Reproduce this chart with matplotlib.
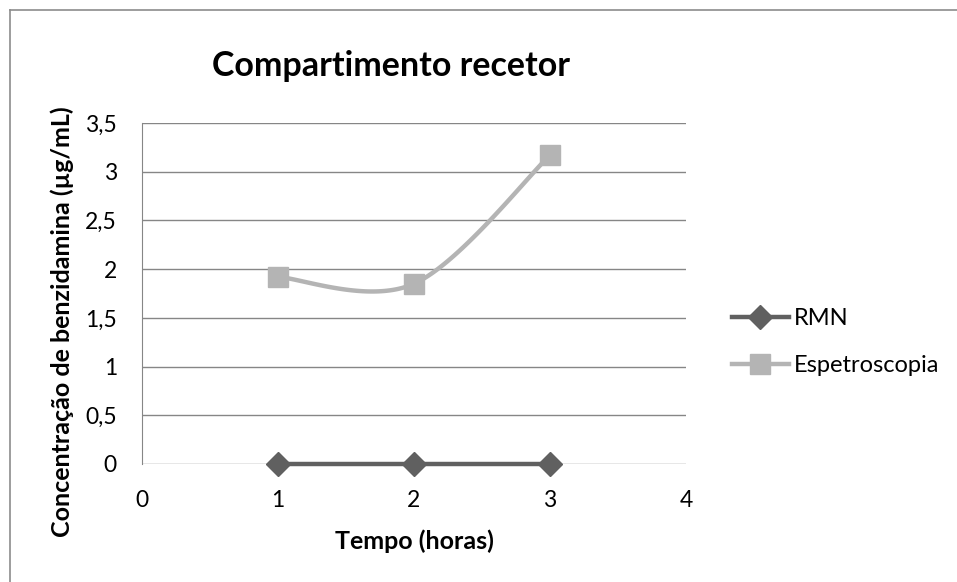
import matplotlib.pyplot as plt
from matplotlib.lines import Line2D
import numpy as np

plt.rcParams['font.family'] = ['Lato', 'DejaVu Sans']

horas = [1, 2, 3]
rmn = [0, 0, 0]
espetroscopia = [1.92, 1.85, 3.17]

x_ticks = [0, 1, 2, 3, 4]
y_ticks = [0, 0.5, 1, 1.5, 2, 2.5, 3, 3.5]


def excel_smooth(x, y, n=60):
    # bezier curve like the "smoothed line" option in a spreadsheet
    x = np.asarray(x, float)
    y = np.asarray(y, float)
    px = np.concatenate([[x[0]], x, [x[-1]]])
    py = np.concatenate([[y[0]], y, [y[-1]]])
    xs, ys = [], []
    t = np.linspace(0, 1, n)
    for i in range(1, len(px) - 2):
        c1x = px[i] + (px[i + 1] - px[i - 1]) / 6
        c1y = py[i] + (py[i + 1] - py[i - 1]) / 6
        c2x = px[i + 1] - (px[i + 2] - px[i]) / 6
        c2y = py[i + 1] - (py[i + 2] - py[i]) / 6
        b = [(1 - t) ** 3, 3 * (1 - t) ** 2 * t, 3 * (1 - t) * t ** 2, t ** 3]
        xs.append(b[0] * px[i] + b[1] * c1x + b[2] * c2x + b[3] * px[i + 1])
        ys.append(b[0] * py[i] + b[1] * c1y + b[2] * c2y + b[3] * py[i + 1])
    return np.concatenate(xs), np.concatenate(ys)


W, H = 957, 582
fig = plt.figure(figsize=(W / 100, H / 100), dpi=100)
ax = fig.add_axes([142 / W, 118 / H, 544 / W, 341 / H])

# chart border (only left and top visible)
fig.add_artist(Line2D([10 / W, 10 / W], [0, 1 - 10 / H], color='#8c8c8c', lw=1.2))
fig.add_artist(Line2D([10 / W, 1], [1 - 10 / H, 1 - 10 / H], color='#8c8c8c', lw=1.2))

dark = '#606060'
light = '#b4b4b4'

sx, sy = excel_smooth(horas, espetroscopia)
ax.plot(sx, sy, color=light, lw=3.2, solid_capstyle='round', zorder=3)
ax.plot(horas, espetroscopia, ls='none', marker='s', ms=14.5, color=light, zorder=4)
ax.plot(horas, rmn, color=dark, lw=3.2, marker='D', ms=12, zorder=5, clip_on=False)

ax.set_xlim(0, 4)
ax.set_ylim(0, 3.5)
ax.set_xticks(x_ticks)
ax.set_yticks(y_ticks)
ax.set_yticklabels([('%g' % v).replace('.', ',') for v in y_ticks])
ax.tick_params(axis='both', length=0, labelsize=16.5)
ax.tick_params(axis='x', pad=19)
ax.tick_params(axis='y', pad=18)
ax.grid(axis='y', color='#868686', lw=1)
ax.set_axisbelow(True)
for s in ['top', 'right', 'bottom']:
    ax.spines[s].set_visible(False)
ax.spines['left'].set_color('#868686')

fig.text(391 / W, 1 - 76 / H, 'Compartimento recetor', fontsize=24.5,
         fontweight='bold', ha='center', va='baseline')
fig.text(414 / W, 1 - 541 / H, 'Tempo (horas)', fontsize=18,
         fontweight='bold', ha='center', va='center')
fig.text(62 / W, 1 - 322 / H, 'Concentração de benzidamina (µg/mL)', fontsize=18,
         fontweight='bold', ha='center', va='center', rotation=90)

handles = [
    Line2D([], [], color=dark, lw=3.2, marker='D', ms=12),
    Line2D([], [], color=light, lw=3.2, marker='s', ms=14.5),
]
fig.legend(handles, ['RMN', 'Espetroscopia'], loc='center left',
           bbox_to_anchor=(732 / W, 1 - 342 / H), frameon=False, borderpad=0,
           borderaxespad=0, fontsize=17, handlelength=2.4, labelspacing=1.1,
           handletextpad=0.2)

fig.savefig('out.png', dpi=100)
